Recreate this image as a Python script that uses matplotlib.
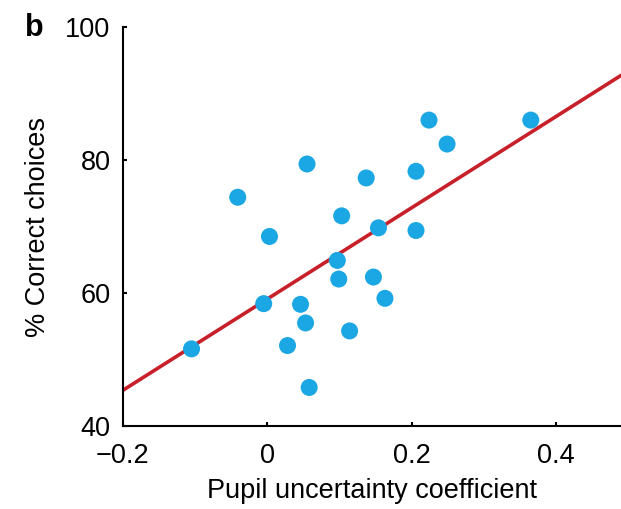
import matplotlib
matplotlib.use("Agg")
import matplotlib.pyplot as plt
import numpy as np

# pupil uncertainty coefficient vs % correct choices
pupil_coef = [-0.105, -0.041, 0.003, -0.005, 0.055, 0.046, 0.053, 0.028, 0.058,
              0.103, 0.097, 0.099, 0.114, 0.137, 0.147, 0.154, 0.163,
              0.206, 0.206, 0.224, 0.249, 0.365]
pct_correct = [51.6, 74.4, 68.5, 58.4, 79.4, 58.3, 55.5, 52.1, 45.8,
               71.6, 64.9, 62.1, 54.3, 77.3, 62.4, 69.8, 59.2,
               78.3, 69.4, 86.0, 82.4, 86.0]

# regression line as drawn
fit_slope = 68.6
fit_intercept = 59.1

x_ticks = [-0.2, 0, 0.2, 0.4]
x_tick_labels = ["\u22120.2", "0", "0.2", "0.4"]
y_ticks = [40, 60, 80, 100]

plt.rcParams['font.family'] = ['Liberation Sans', 'DejaVu Sans']

fig = plt.figure(figsize=(6.21, 5.09), dpi=100)
ax = fig.add_axes([0.198, 0.163, 0.802, 0.784])

xl = np.array([-0.2, 0.49])
ax.plot(xl, fit_intercept + fit_slope * xl, color="#c8202a", lw=2.6, zorder=2)
ax.scatter(pupil_coef, pct_correct, s=150, color="#1ba6e4", edgecolors="none", zorder=3)

ax.set_xlim(-0.2, 0.49)
ax.set_ylim(40, 100)
ax.set_xticks(x_ticks)
ax.set_xticklabels(x_tick_labels)
ax.set_yticks(y_ticks)

for s in ["top", "right"]:
    ax.spines[s].set_visible(False)
for s in ["left", "bottom"]:
    ax.spines[s].set_linewidth(1.5)
ax.tick_params(direction="in", length=3, width=1.5, labelsize=19.5)
ax.tick_params(axis="x", pad=12)
ax.tick_params(axis="y", pad=9)

ax.set_xlabel("Pupil uncertainty coefficient", fontsize=19.5, labelpad=7)
ax.set_ylabel("% Correct choices", fontsize=19.5, labelpad=10)

fig.text(0.04, 0.93, "b", fontsize=22, fontweight="bold")

fig.savefig("out.png", dpi=100)
